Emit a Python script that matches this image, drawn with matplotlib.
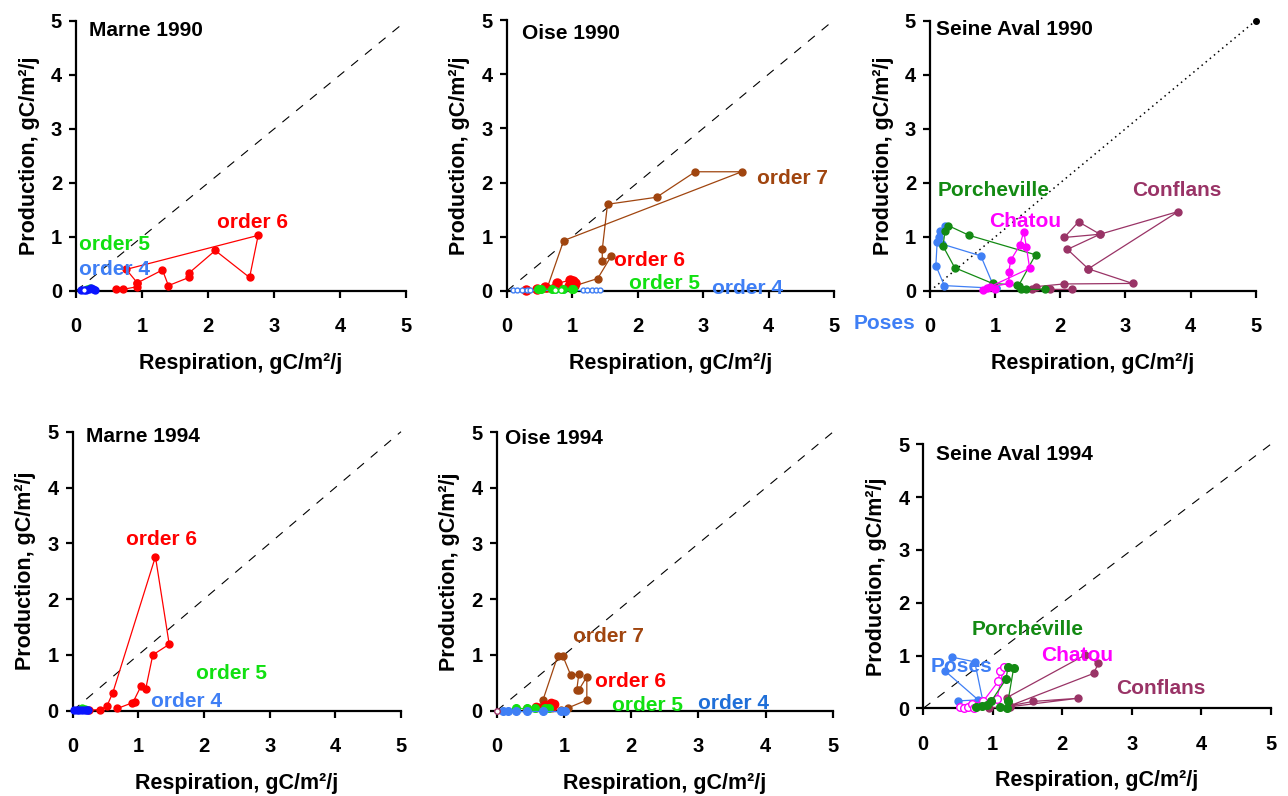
import matplotlib
matplotlib.use('Agg')
import matplotlib.pyplot as plt

plt.rcParams['font.family'] = ['Liberation Sans', 'DejaVu Sans']
plt.rcParams['font.weight'] = 'bold'

# ---------------- colours ----------------
RED = '#ff0000'
GREEN = '#11e011'
BLUE_DARK = '#0a14ff'
BLUE = '#3f7ff5'
BLUE4_94 = '#1f6fd8'
BROWN = '#a0450f'
PORCH = '#138a13'
CHATOU = '#ff00ff'
CONF = '#993366'

# ---------------- data: Marne 1990 ----------------
m90_o6_x = [0.61, 0.71, 0.93, 0.93, 1.31, 1.40, 1.71, 1.71, 2.11, 2.63, 2.76, 0.76, 0.93]
m90_o6_y = [0.03, 0.03, 0.08, 0.15, 0.39, 0.10, 0.25, 0.33, 0.75, 0.25, 1.03, 0.40, 0.15]
m90_o5_x = [0.16, 0.21]
m90_o5_y = [0.04, 0.06]
m90_o4_x = [0.08, 0.12, 0.15, 0.19, 0.23, 0.26, 0.29]
m90_o4_y = [0.01, 0.01, 0.02, 0.03, 0.05, 0.04, 0.02]

# ---------------- data: Oise 1990 ----------------
o90_o7_x = [0.62, 0.87, 3.59, 2.88, 2.29, 1.54, 1.46, 1.46, 1.60, 1.39, 1.05]
o90_o7_y = [0.06, 0.93, 2.20, 2.20, 1.73, 1.60, 0.77, 0.55, 0.65, 0.23, 0.10]
o90_o6_x = [0.30, 0.46, 0.59, 0.77, 0.97, 1.02, 1.05, 0.95]
o90_o6_y = [0.02, 0.04, 0.07, 0.14, 0.20, 0.19, 0.14, 0.10]
o90_o5_x = [0.48, 0.52, 0.69, 0.86, 0.99, 1.02]
o90_o5_y = [0.03, 0.04, 0.03, 0.03, 0.04, 0.03]
o90_o5o_x = [0.74, 0.83]
o90_o5o_y = [0.02, 0.02]
o90_o4_x = [0.10, 0.16, 0.23, 0.31, 0.36, 0.71, 0.76, 0.87, 1.17, 1.23, 1.30, 1.36, 1.43]
o90_o4_y = [0.01, 0.01, 0.01, 0.01, 0.01, 0.01, 0.01, 0.01, 0.01, 0.01, 0.01, 0.01, 0.01]

# ---------------- data: Seine Aval 1990 ----------------
s90_pos_x = [1.01, 0.97, 0.78, 0.18, 0.14, 0.16, 0.23, 0.11, 0.09, 0.22, 1.01]
s90_pos_y = [0.05, 0.11, 0.65, 0.87, 0.99, 1.11, 1.21, 0.91, 0.47, 0.10, 0.05]
s90_por_x = [1.77, 1.48, 1.39, 1.33, 0.96, 0.38, 0.20, 0.23, 0.28, 0.60, 1.62, 1.36]
s90_por_y = [0.03, 0.03, 0.03, 0.11, 0.14, 0.43, 0.83, 1.11, 1.21, 1.03, 0.67, 0.10]
s90_cha_x = [0.82, 0.92, 1.21, 1.21, 1.24, 1.38, 1.44, 1.48, 1.53, 0.87, 1.00]
s90_cha_y = [0.02, 0.07, 0.14, 0.36, 0.57, 0.85, 1.10, 0.81, 0.42, 0.05, 0.03]
s90_con_x = [2.18, 1.84, 1.56, 1.62, 2.05, 3.11, 2.43, 2.11, 2.61, 2.06, 2.28, 2.61, 3.81, 2.43]
s90_con_y = [0.03, 0.03, 0.04, 0.08, 0.13, 0.14, 0.41, 0.77, 1.05, 0.99, 1.28, 1.05, 1.47, 0.41]

# ---------------- data: Marne 1994 ----------------
m94_o6_x = [0.25, 0.42, 0.52, 0.61, 1.26, 1.47, 1.22, 1.11, 1.04, 0.91, 0.95, 0.68]
m94_o6_y = [0.01, 0.02, 0.08, 0.32, 2.76, 1.19, 1.00, 0.38, 0.44, 0.13, 0.16, 0.04]
m94_o5_x = [0.14, 0.18]
m94_o5_y = [0.04, 0.03]
m94_o4_x = [0.02, 0.06, 0.10, 0.14, 0.18, 0.22, 0.24]
m94_o4_y = [0.01, 0.01, 0.01, 0.02, 0.02, 0.01, 0.01]

# ---------------- data: Oise 1994 ----------------
o94_o7_x = [0.64, 0.69, 0.91, 0.98, 1.10, 1.22, 1.19, 1.22, 1.34, 1.34, 1.06, 0.95]
o94_o7_y = [0.07, 0.20, 0.99, 0.99, 0.64, 0.65, 0.37, 0.37, 0.61, 0.19, 0.05, 0.02]
o94_o6_x = [0.45, 0.59, 0.72, 0.80, 0.85, 0.82]
o94_o6_y = [0.03, 0.07, 0.10, 0.13, 0.12, 0.06]
o94_o5_x = [0.29, 0.45, 0.57, 0.72, 0.78]
o94_o5_y = [0.04, 0.04, 0.04, 0.04, 0.04]
o94_o4_x = [0.09, 0.17, 0.29, 0.45, 0.69, 0.96, 1.01]
o94_o4_y = [0.00, 0.00, 0.00, 0.00, 0.00, 0.00, 0.00]
o94_ref_x = [0.0]
o94_ref_y = [0.0]

# ---------------- data: Seine Aval 1994 ----------------
s94_pos_x = [0.86, 0.74, 0.41, 0.31, 0.79, 0.50]
s94_pos_y = [0.12, 0.88, 0.97, 0.71, 0.16, 0.14]
s94_cha_x = [0.53, 0.59, 0.65, 0.70, 0.86, 1.08, 1.10, 1.16, 1.06, 0.73]
s94_cha_y = [0.02, 0.01, 0.03, 0.09, 0.13, 0.51, 0.71, 0.79, 0.18, 0.01]
s94_por_x = [0.76, 0.84, 0.91, 0.98, 1.19, 1.22, 1.30, 1.22, 1.20, 1.10]
s94_por_y = [0.02, 0.05, 0.06, 0.14, 0.55, 0.79, 0.76, 0.14, 0.01, 0.02]
s94_con_x = [0.95, 1.25, 2.23, 1.58, 1.25, 2.45, 2.52, 2.33, 1.20]
s94_con_y = [0.01, 0.03, 0.19, 0.13, 0.05, 0.66, 0.85, 1.01, 0.20]

ticks = [0, 1, 2, 3, 4, 5]
tick_labels = ['0', '1', '2', '3', '4', '5']
xlabel = 'Respiration, gC/m\u00b2/j'
ylabel = 'Production, gC/m\u00b2/j'

W, H = 1288, 796
fig = plt.figure(figsize=(W / 100, H / 100), dpi=100)


def make_ax(l, r, t, b, title, tx, ty, dotted=False):
    ax = fig.add_axes([l / W, 1 - b / H, (r - l) / W, (b - t) / H])
    ax.set_xlim(0, 5)
    ax.set_ylim(0, 5)
    for s in ('top', 'right'):
        ax.spines[s].set_visible(False)
    for s in ('left', 'bottom'):
        ax.spines[s].set_linewidth(1.6)
    ax.set_xticks(ticks)
    ax.set_yticks(ticks)
    ax.set_xticklabels(tick_labels, fontsize=14.5, fontweight='bold')
    ax.set_yticklabels(tick_labels, fontsize=14.5, fontweight='bold')
    ax.tick_params(axis='x', length=5, width=1.6, pad=14)
    ax.tick_params(axis='y', length=5, width=1.6, pad=5)
    ax.set_xlabel(xlabel, fontsize=15.5, fontweight='bold', labelpad=12)
    ax.set_ylabel(ylabel, fontsize=15.5, fontweight='bold', labelpad=8)
    ax.patch.set_alpha(0)
    if dotted:
        ax.plot([0, 5], [0, 5], color='black', lw=1.1, ls=(0, (1, 2.5)), clip_on=False, zorder=1)
        ax.plot([5], [5], 'o', color='black', ms=4, clip_on=False, zorder=1)
    else:
        ax.plot([0, 5], [0, 5], color='black', lw=0.8, ls=(0, (8, 8)), clip_on=False, zorder=1)
    ax.text(tx, ty, title, fontsize=15, fontweight='bold', ha='left', va='center')
    return ax


def series(ax, x, y, color, ms=5, open_=False, lw=0.9, z=3):
    mfc = 'white' if open_ else color
    ax.plot(x, y, '-o', color=color, mfc=mfc, mec=color, ms=ms, lw=lw,
            mew=1.0, clip_on=False, zorder=z)


def label(ax, x, y, s, color, fs=15):
    ax.text(x, y, s, color=color, fontsize=fs, fontweight='bold', ha='left',
            va='center', clip_on=False, zorder=5)


# Panel 1: Marne 1990
ax = make_ax(76, 406, 21, 291, 'Marne 1990', 0.19, 4.83)
series(ax, m90_o6_x, m90_o6_y, RED, ms=5)
series(ax, m90_o5_x, m90_o5_y, GREEN, ms=5)
series(ax, m90_o4_x, m90_o4_y, BLUE_DARK, ms=5)
ax.plot(m90_o4_x[1:2], m90_o4_y[1:2], 'o', mfc='white', mec=BLUE_DARK, ms=4, clip_on=False, zorder=4)
label(ax, 2.13, 1.26, 'order 6', RED)
label(ax, 0.05, 0.86, 'order 5', GREEN)
label(ax, 0.05, 0.40, 'order 4', BLUE)

# Panel 2: Oise 1990
ax = make_ax(506.7, 834, 20, 291, 'Oise 1990', 0.23, 4.75)
series(ax, o90_o7_x, o90_o7_y, BROWN, ms=5)
series(ax, o90_o6_x, o90_o6_y, RED, ms=6.5)
series(ax, o90_o4_x, o90_o4_y, BLUE, ms=3.5, open_=True, lw=0.7)
series(ax, o90_o5_x, o90_o5_y, GREEN, ms=5.5, z=4)
ax.plot(o90_o5o_x, o90_o5o_y, 'o', mfc='white', mec=GREEN, ms=4, clip_on=False, zorder=4)
label(ax, 3.82, 2.07, 'order 7', BROWN)
label(ax, 1.64, 0.57, 'order 6', RED)
label(ax, 1.87, 0.14, 'order 5', GREEN)
label(ax, 3.13, 0.05, 'order 4', BLUE)

# Panel 3: Seine Aval 1990
ax = make_ax(930, 1255.7, 20.7, 291, 'Seine Aval 1990', 0.09, 4.83, dotted=True)
series(ax, s90_con_x, s90_con_y, CONF, ms=5)
series(ax, s90_pos_x, s90_pos_y, BLUE, ms=5)
series(ax, s90_por_x, s90_por_y, PORCH, ms=5)
series(ax, s90_cha_x, s90_cha_y, CHATOU, ms=5)
label(ax, 0.11, 1.85, 'Porcheville', PORCH)
label(ax, 0.90, 1.29, 'Chatou', CHATOU)
label(ax, 3.10, 1.85, 'Conflans', CONF)
label(ax, -1.17, -0.60, 'Poses', BLUE)

# Panel 4: Marne 1994
ax = make_ax(72.7, 401, 431.7, 710.7, 'Marne 1994', 0.21, 4.91)
series(ax, m94_o6_x, m94_o6_y, RED, ms=5)
series(ax, m94_o5_x, m94_o5_y, GREEN, ms=5)
series(ax, m94_o4_x, m94_o4_y, BLUE_DARK, ms=5)
label(ax, 0.81, 3.07, 'order 6', RED)
label(ax, 1.88, 0.67, 'order 5', GREEN)
label(ax, 1.19, 0.17, 'order 4', BLUE)

# Panel 5: Oise 1994
ax = make_ax(496.7, 833, 432, 710.7, 'Oise 1994', 0.12, 4.89)
series(ax, o94_o7_x, o94_o7_y, BROWN, ms=5)
series(ax, o94_o6_x, o94_o6_y, RED, ms=6)
series(ax, o94_o5_x, o94_o5_y, GREEN, ms=5.5)
series(ax, o94_o4_x, o94_o4_y, BLUE, ms=5.5)
ax.plot(o94_ref_x, o94_ref_y, 'o', mfc='white', mec=CONF, ms=4, clip_on=False, zorder=4)
label(ax, 1.13, 1.33, 'order 7', BROWN)
label(ax, 1.46, 0.52, 'order 6', RED)
label(ax, 1.71, 0.10, 'order 5', GREEN)
label(ax, 3.00, 0.13, 'order 4', BLUE4_94)

# Panel 6: Seine Aval 1994
ax = make_ax(923.3, 1270.7, 444.3, 708.3, 'Seine Aval 1994', 0.18, 4.80)
series(ax, s94_con_x, s94_con_y, CONF, ms=5)
series(ax, s94_pos_x, s94_pos_y, BLUE, ms=5)
series(ax, s94_cha_x, s94_cha_y, CHATOU, ms=5.5, open_=True)
series(ax, s94_por_x, s94_por_y, PORCH, ms=5.5)
label(ax, 0.70, 1.50, 'Porcheville', PORCH)
label(ax, 1.70, 1.00, 'Chatou', CHATOU)
label(ax, 2.77, 0.38, 'Conflans', CONF)
label(ax, 0.11, 0.80, 'Poses', BLUE)

fig.savefig('out.png', dpi=100)
